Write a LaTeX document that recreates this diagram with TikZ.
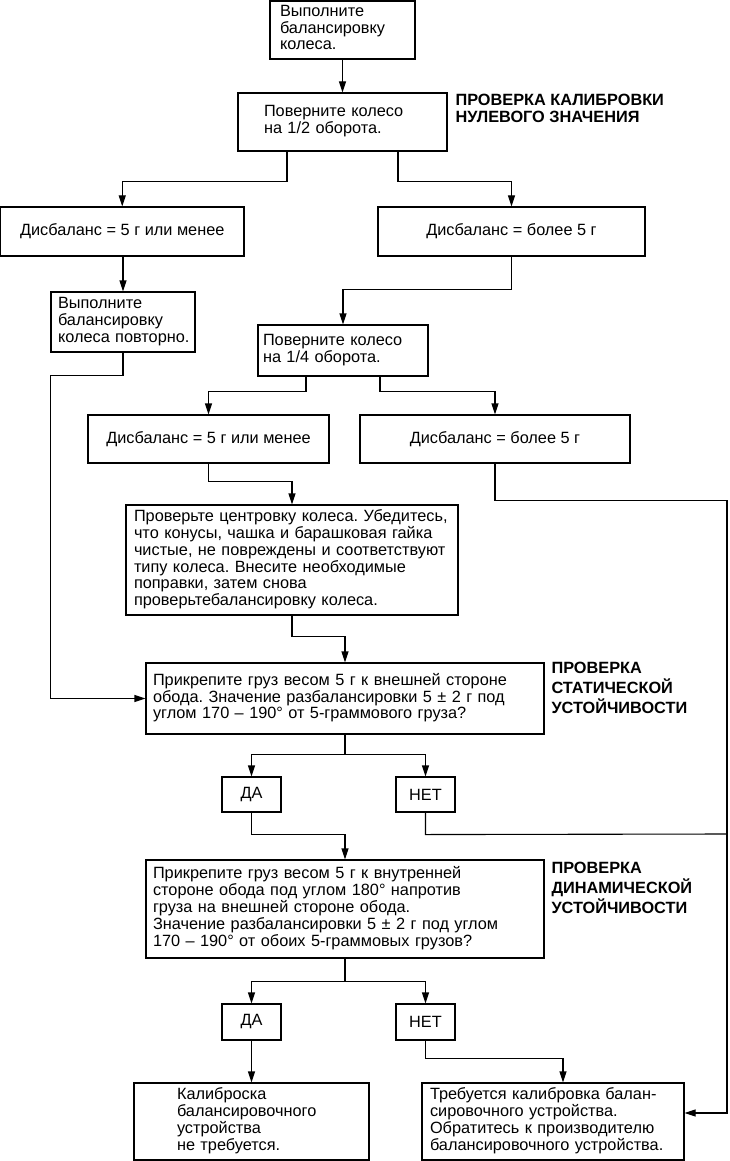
\documentclass[tikz,border=0pt]{standalone}
\usepackage{fontspec}
\setmainfont{Liberation Sans}
\usetikzlibrary{arrows.meta}
\newcommand{\txtlines}[1]{{\def\arraystretch{1}\begin{tabular}{@{}l@{}}#1\end{tabular}}}
\frenchspacing
\begin{document}
\begin{tikzpicture}[x=1pt,y=-1pt,
  line width=1.1pt,
  box/.style={draw,line width=1.1pt,inner sep=0pt,font=\fontsize{16.3}{16.5}\selectfont},
  lbox/.style={box,align=left},
  ttl/.style={anchor=north west,inner sep=0pt,align=left,font=\bfseries\fontsize{16.3}{16.3}\selectfont},
  arr/.style={-{Triangle[length=11pt,width=7pt]},line width=1.1pt}]
\path[use as bounding box, fill=white] (0,0) rectangle (729,1161);

% boxes
\node[lbox,minimum width=145pt,minimum height=58pt,text width=125pt] (b1) at (342.5,30) {\txtlines{Выполните\\балансировку\\колеса.}};
\node[lbox,minimum width=209pt,minimum height=58pt,text width=157pt] (b2) at (342.5,122) {\txtlines{Поверните колесо\\на 1/2 оборота.}};
\node[box,minimum width=243.5pt,minimum height=49pt] (b3) at (122.25,231.5) {Дисбаланс = 5 г или менее};
\node[box,minimum width=267pt,minimum height=49pt] (b4) at (511.5,231.5) {Дисбаланс = более 5 г};
\node[lbox,minimum width=144pt,minimum height=60pt,text width=130pt] (b5) at (123,322) {\txtlines{Выполните\\балансировку\\колеса повторно.}};
\node[lbox,minimum width=170pt,minimum height=51pt,text width=160pt] (b6) at (343,350.5) {\txtlines{Поверните колесо\\на 1/4 оборота.}};
\node[box,minimum width=241pt,minimum height=48pt] (b7) at (208.5,439) {Дисбаланс = 5 г или менее};
\node[box,minimum width=270pt,minimum height=48pt] (b8) at (495,439) {Дисбаланс = более 5 г};
\node[lbox,minimum width=332pt,minimum height=110pt,text width=316pt] (b9) at (292,560) {\txtlines{Проверьте центровку колеса. Убедитесь,\\что конусы, чашка и барашковая гайка\\чистые, не повреждены и соответствуют\\типу колеса. Внесите необходимые\\поправки, затем снова\\проверьтебалансировку колеса.}};
\node[lbox,minimum width=398pt,minimum height=71pt,text width=384pt] (b10) at (345,698.5) {\txtlines{Прикрепите груз весом 5 г к внешней стороне\\обода. Значение разбалансировки 5 ± 2 г под\\углом 170 – 190° от 5-граммового груза?}};
\node[box,minimum width=59pt,minimum height=35pt] (da1) at (251.5,794.5) {ДА};
\node[box,minimum width=59pt,minimum height=35pt] (net1) at (425.5,794.5) {НЕТ};
\node[lbox,minimum width=398pt,minimum height=98pt,text width=384pt] (b11) at (345,909) {\txtlines{Прикрепите груз весом 5 г к внутренней\\стороне обода под углом 180° напротив\\груза на внешней стороне обода.\\Значение разбалансировки 5 ± 2 г под углом\\170 – 190° от обоих 5-граммовых грузов?}};
\node[box,minimum width=59pt,minimum height=36pt] (da2) at (251.5,1022) {ДА};
\node[box,minimum width=59pt,minimum height=36pt] (net2) at (425.5,1022) {НЕТ};
\node[lbox,minimum width=235pt,minimum height=77pt,text width=149pt] (b12) at (251.5,1121.5) {\txtlines{Калиброска\\балансировочного\\устройства\\не требуется.}};
\node[lbox,minimum width=262pt,minimum height=77pt,text width=246pt] (b13) at (553,1121.5) {\txtlines{Требуется калибровка балан-\\сировочного устройства.\\Обратитесь к производителю\\балансировочного устройства.}};

% titles
\node[ttl] (t1) at (455,94) {\txtlines{ПРОВЕРКА КАЛИБРОВКИ\\НУЛЕВОГО ЗНАЧЕНИЯ}};
\node[ttl] (t2) at (551,662) {\txtlines{ПРОВЕРКА\\СТАТИЧЕСКОЙ\\УСТОЙЧИВОСТИ}};
\node[ttl] (t3) at (551,862) {\txtlines{ПРОВЕРКА\\ДИНАМИЧЕСКОЙ\\УСТОЙЧИВОСТИ}};

\coordinate (R) at (727,834);
\coordinate (b13in) at ([yshift=8.5pt]b13.east);

% connectors
\draw[arr] (b1) -- (b2);
\draw[arr] ([xshift=-55.5pt]b2.south) -- ++(0,30) -| (b3.north);
\draw[arr] ([xshift=55.5pt]b2.south) -- ++(0,30) -| (b4.north);
\draw[arr] (b3.south -| b5.north) -- (b5.north);
\draw[arr] (b4.south) -- ++(0,33) -| (b6.north);
\draw[arr] (b5.south) -- ++(0,23) -| (b5.west |- b10.west) -- (b10.west);
\draw[arr] ([xshift=-37pt]b6.south) -- ++(0,15) -| (b7.north);
\draw[arr] ([xshift=37pt]b6.south) -- ++(0,15) -| (b8.north);
\draw[arr] (b7.south) -- ++(0,18) -| (b9.north);
\draw[arr] (b8.south) -- ++(0,37) -| (R |- b13in) -- (b13in);
\draw[arr] (b9.south) -- ++(0,21) -| (b10.north);
\draw[arr] (b10.south) -- ++(0,20) -| (da1.north);
\draw[arr] (b10.south) -- ++(0,20) -| (net1.north);
\draw[arr] (da1.south) -- ++(0,22) -| (b11.north);
\draw (net1.south) -- ++(0,22) -- (R);
\draw[arr] (b11.south) -- ++(0,23) -| (da2.north);
\draw[arr] (b11.south) -- ++(0,23) -| (net2.north);
\draw[arr] (da2) -- (b12);
\draw[arr] (net2.south) -- ++(0,18) -| ([xshift=10pt]b13.north);
\end{tikzpicture}
\end{document}
